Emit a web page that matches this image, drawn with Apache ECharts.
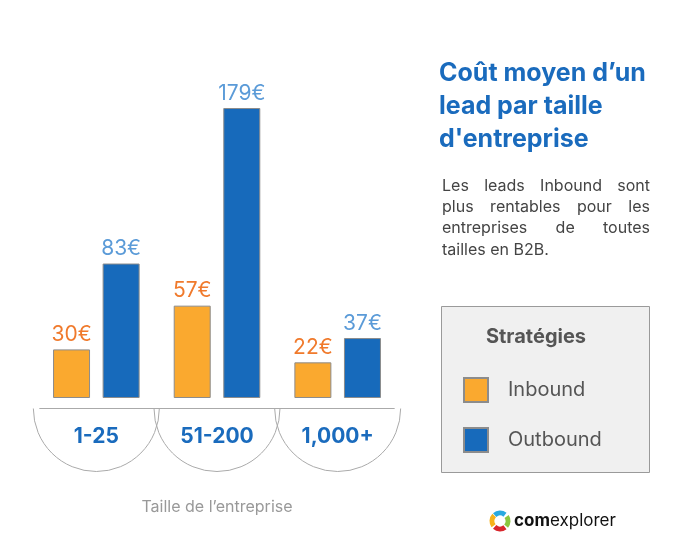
<!DOCTYPE html>
<html>
<head>
<meta charset="utf-8">
<script src="https://cdn.jsdelivr.net/npm/echarts@6/dist/echarts.min.js"></script>
<style>
  html, body { margin: 0; padding: 0; background: #fff; }
  #chart { width: 683px; height: 560px; }
</style>
</head>
<body>
<div id="chart"></div>
<script>
// données
const categories = ['1-25', '51-200', '1,000+'];
const inbound = [30, 57, 22];
const outbound = [83, 179, 37];
const seriesNames = ['Inbound', 'Outbound'];
const titleLines = ['Coût moyen d’un', 'lead par taille', "d'entreprise"];
const noteLines = ['Les leads Inbound sont', 'plus rentables pour les', 'entreprises de toutes', 'tailles en B2B.'];

const FONT = 'Inter';
const chart = echarts.init(document.getElementById('chart'));

// texte justifié (mot par mot)
function justify(lines, x, w, y0, lh, font, color) {
  const ctx = document.createElement('canvas').getContext('2d');
  ctx.font = font;
  const els = [];
  lines.forEach((line, i) => {
    const words = line.split(' ');
    const y = y0 + i * lh;
    const last = i === lines.length - 1;
    const total = words.reduce((s, wd) => s + ctx.measureText(wd).width, 0);
    const gap = (last || words.length < 2) ? ctx.measureText(' ').width : (w - total) / (words.length - 1);
    let cx = x;
    words.forEach(wd => {
      els.push({ type: 'text', x: cx, y: y, silent: true, style: { text: wd, font: font, fill: color, verticalAlign: 'middle' } });
      cx += ctx.measureText(wd).width + gap;
    });
  });
  return els;
}

const barBorder = '#8c8c8c';

let option = {
  animation: false,
  textStyle: { fontFamily: FONT },
  title: [
    {
      text: titleLines.join('\n'),
      left: 439, top: 57, padding: 0,
      textStyle: { fontSize: 25, fontWeight: 'bold', color: '#1a6bbd', lineHeight: 33, fontFamily: FONT }
    },
    {
      text: 'Stratégies',
      left: 536, top: 337, padding: 0, textAlign: 'center', textVerticalAlign: 'middle',
      textStyle: { fontSize: 20, fontWeight: 'bold', color: '#555', fontFamily: FONT }
    }
  ],
  legend: {
    data: seriesNames,
    orient: 'vertical',
    left: 463, top: 377, padding: 0,
    itemWidth: 24, itemHeight: 24, itemGap: 24,
    icon: 'rect',
    selectedMode: false,
    textStyle: { fontSize: 20, color: '#555', padding: [0, 0, 0, 15], fontFamily: FONT }
  },
  grid: { left: 36, width: 362, top: 108, height: 290 },
  xAxis: {
    type: 'category',
    data: categories,
    offset: 10,
    axisLine: { show: false },
    axisTick: { show: false },
    axisLabel: { fontSize: 21, fontWeight: 'bold', color: '#1a6bbd', margin: 18 },
    name: 'Taille de l’entreprise',
    nameLocation: 'middle',
    nameGap: 91,
    nameTextStyle: { fontSize: 16, color: '#999' }
  },
  yAxis: { type: 'value', min: 0, max: 179, show: false },
  series: [
    {
      name: seriesNames[0], type: 'bar', data: inbound,
      barWidth: 37, barGap: '34%',
      itemStyle: { color: '#faa92f', borderColor: barBorder, borderWidth: 1 },
      label: { show: true, position: 'top', distance: 4, formatter: '{c}€', fontSize: 21, color: '#f07a2c' }
    },
    {
      name: seriesNames[1], type: 'bar', data: outbound,
      barWidth: 37,
      itemStyle: { color: '#176abb', borderColor: barBorder, borderWidth: 1 },
      label: { show: true, position: 'top', distance: 4, formatter: '{c}€', fontSize: 21, color: '#5b9bd8' }
    }
  ]
};
chart.setOption(option);

// demi-cercles sous chaque catégorie + ligne + encadré + logo
const R = 63, LINE_Y = 408.5;
const centers = categories.map(c => chart.convertToPixel({ xAxisIndex: 0 }, c));
const arcs = centers.map(cx => ({
  type: 'arc', z: -1, silent: true,
  shape: { cx: cx, cy: LINE_Y, r: R, startAngle: 0, endAngle: Math.PI, clockwise: true },
  style: { stroke: '#aaa', lineWidth: 1, fill: null }
}));
const baseLine = {
  type: 'line', z: -1, silent: true,
  shape: { x1: centers[0] - R + 6, y1: LINE_Y, x2: centers[centers.length - 1] + R - 6, y2: LINE_Y },
  style: { stroke: '#aaa', lineWidth: 1 }
};

const logoArcs = [
  ['#29a9e0', -2.3, -0.9],
  ['#8cc63e', -0.6, 0.7],
  ['#d8262c', 0.9, 2.3],
  ['#f6b21b', 2.5, 3.9]
].map(a => ({
  type: 'arc', silent: true,
  shape: { cx: 500, cy: 521, r: 8, startAngle: a[1], endAngle: a[2] },
  style: { stroke: a[0], lineWidth: 5, fill: null }
}));

chart.setOption({
  graphic: [
    ...arcs,
    baseLine,
    {
      type: 'rect', z: -2, silent: true,
      shape: { x: 441.5, y: 306.5, width: 208, height: 166 },
      style: { fill: '#f0f0f0', stroke: '#9a9a9a', lineWidth: 1 }
    },
    ...justify(noteLines, 442, 208, 186, 21.3, '16px ' + FONT, '#444'),
    ...logoArcs,
    {
      type: 'text', x: 514, y: 521, silent: true,
      style: {
        text: '{b|com}{n|explorer}', verticalAlign: 'middle',
        rich: {
          b: { fontSize: 17, fontWeight: 'bold', fill: '#111', fontFamily: FONT },
          n: { fontSize: 17, fill: '#111', fontFamily: FONT }
        }
      }
    }
  ]
});
</script>
</body>
</html>
